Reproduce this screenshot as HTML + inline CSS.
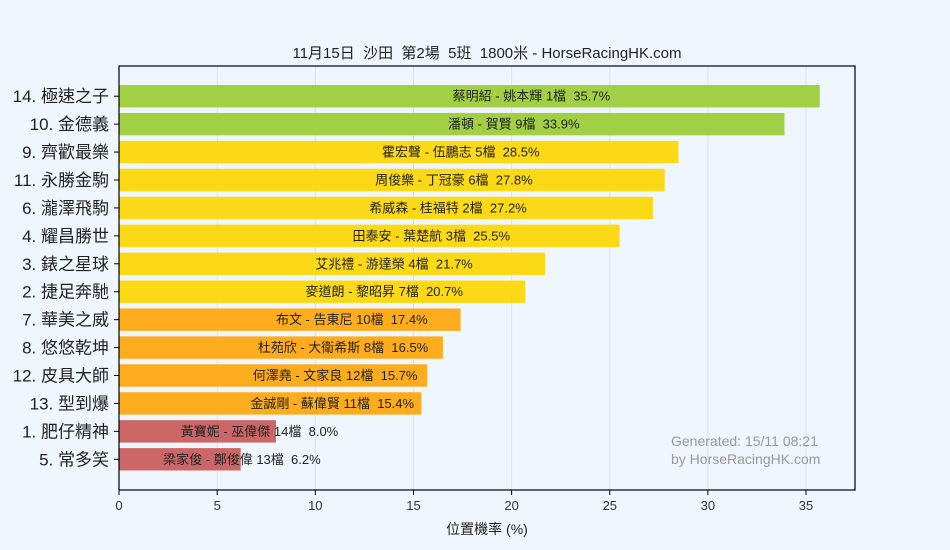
<!DOCTYPE html>
<html><head><meta charset="utf-8"><style>
body{margin:0;background:#eff6fe;}
svg{display:block;font-family:"Liberation Sans","Noto Sans CJK TC",sans-serif;}
text{white-space:pre;}
</style></head><body>
<svg width="950" height="550" xmlns="http://www.w3.org/2000/svg">
<rect width="950" height="550" fill="#eff6fe"/>
<text x="487" y="58" font-size="15" text-anchor="middle" fill="#222">11月15日  沙田  第2場  5班  1800米 - HorseRacingHK.com</text>
<g stroke="#dde2ea" stroke-width="1">
<line x1="217.2" y1="66" x2="217.2" y2="490"/><line x1="315.3" y1="66" x2="315.3" y2="490"/><line x1="413.5" y1="66" x2="413.5" y2="490"/><line x1="511.6" y1="66" x2="511.6" y2="490"/><line x1="609.8" y1="66" x2="609.8" y2="490"/><line x1="707.9" y1="66" x2="707.9" y2="490"/><line x1="806" y1="66" x2="806" y2="490"/>
</g>
<g>
<rect x="119" y="85" width="700.8" height="22.4" fill="#a2d045"/>
<rect x="119" y="112.93" width="665.5" height="22.4" fill="#a2d045"/>
<rect x="119" y="140.86" width="559.5" height="22.4" fill="#fcd916"/>
<rect x="119" y="168.79" width="545.7" height="22.4" fill="#fcd916"/>
<rect x="119" y="196.72" width="533.9" height="22.4" fill="#fcd916"/>
<rect x="119" y="224.65" width="500.6" height="22.4" fill="#fcd916"/>
<rect x="119" y="252.58" width="426.0" height="22.4" fill="#fcd916"/>
<rect x="119" y="280.51" width="406.3" height="22.4" fill="#fcd916"/>
<rect x="119" y="308.44" width="341.6" height="22.4" fill="#fdac1e"/>
<rect x="119" y="336.37" width="323.9" height="22.4" fill="#fdac1e"/>
<rect x="119" y="364.3" width="308.2" height="22.4" fill="#fdac1e"/>
<rect x="119" y="392.23" width="302.3" height="22.4" fill="#fdac1e"/>
<rect x="119" y="420.16" width="157.0" height="22.4" fill="#cd6767"/>
<rect x="119" y="448.09" width="121.7" height="22.4" fill="#cd6767"/>
</g>
<g font-size="13" text-anchor="middle" fill="#222">
<text x="531.4" y="100.7">蔡明紹 - 姚本輝 1檔  35.7%</text>
<text x="513.8" y="128.6">潘頓 - 賀賢 9檔  33.9%</text>
<text x="460.8" y="156.6">霍宏聲 - 伍鵬志 5檔  28.5%</text>
<text x="453.9" y="184.5">周俊樂 - 丁冠豪 6檔  27.8%</text>
<text x="448.0" y="212.4">希威森 - 桂福特 2檔  27.2%</text>
<text x="431.3" y="240.4">田泰安 - 葉楚航 3檔  25.5%</text>
<text x="394.0" y="268.3">艾兆禮 - 游達榮 4檔  21.7%</text>
<text x="384.2" y="296.2">麥道朗 - 黎昭昇 7檔  20.7%</text>
<text x="351.8" y="324.1">布文 - 告東尼 10檔  17.4%</text>
<text x="343.0" y="352.1">杜苑欣 - 大衛希斯 8檔  16.5%</text>
<text x="335.1" y="380.0">何澤堯 - 文家良 12檔  15.7%</text>
<text x="332.2" y="407.9">金誠剛 - 蘇偉賢 11檔  15.4%</text>
<text x="259.5" y="435.9">黃寶妮 - 巫偉傑 14檔  8.0%</text>
<text x="241.9" y="463.8">梁家俊 - 鄭俊偉 13檔  6.2%</text>
</g>
<g stroke="#000">
<line x1="114" y1="96.2" x2="119" y2="96.2"/><line x1="114" y1="124.13" x2="119" y2="124.13"/><line x1="114" y1="152.06" x2="119" y2="152.06"/><line x1="114" y1="179.99" x2="119" y2="179.99"/><line x1="114" y1="207.92" x2="119" y2="207.92"/><line x1="114" y1="235.85" x2="119" y2="235.85"/><line x1="114" y1="263.78" x2="119" y2="263.78"/><line x1="114" y1="291.71" x2="119" y2="291.71"/><line x1="114" y1="319.64" x2="119" y2="319.64"/><line x1="114" y1="347.57" x2="119" y2="347.57"/><line x1="114" y1="375.5" x2="119" y2="375.5"/><line x1="114" y1="403.43" x2="119" y2="403.43"/><line x1="114" y1="431.36" x2="119" y2="431.36"/><line x1="114" y1="459.29" x2="119" y2="459.29"/>
<line x1="119" y1="490" x2="119" y2="495"/><line x1="217.2" y1="490" x2="217.2" y2="495"/><line x1="315.3" y1="490" x2="315.3" y2="495"/><line x1="413.5" y1="490" x2="413.5" y2="495"/><line x1="511.6" y1="490" x2="511.6" y2="495"/><line x1="609.8" y1="490" x2="609.8" y2="495"/><line x1="707.9" y1="490" x2="707.9" y2="495"/><line x1="806" y1="490" x2="806" y2="495"/>
</g>
<g font-size="17" text-anchor="end" fill="#222">
<text x="109" y="102.2">14. 極速之子</text>
<text x="109" y="130.1">10. 金德義</text>
<text x="109" y="158.1">9. 齊歡最樂</text>
<text x="109" y="186.0">11. 永勝金駒</text>
<text x="109" y="213.9">6. 瀧澤飛駒</text>
<text x="109" y="241.9">4. 耀昌勝世</text>
<text x="109" y="269.8">3. 錶之星球</text>
<text x="109" y="297.7">2. 捷足奔馳</text>
<text x="109" y="325.6">7. 華美之威</text>
<text x="109" y="353.6">8. 悠悠乾坤</text>
<text x="109" y="381.5">12. 皮具大師</text>
<text x="109" y="409.4">13. 型到爆</text>
<text x="109" y="437.4">1. 肥仔精神</text>
<text x="109" y="465.3">5. 常多笑</text>
</g>
<rect x="119" y="66" width="736" height="424" fill="none" stroke="#000" stroke-width="1.2"/>
<g font-size="13" fill="#333" text-anchor="middle">
<text x="119" y="510">0</text><text x="217.2" y="510">5</text><text x="315.3" y="510">10</text><text x="413.5" y="510">15</text><text x="511.6" y="510">20</text><text x="609.8" y="510">25</text><text x="707.9" y="510">30</text><text x="806" y="510">35</text>
</g>
<text x="487" y="534" font-size="14" text-anchor="middle" fill="#222">位置機率 (%)</text>
<text x="671" y="446" font-size="14" fill="#999">Generated: 15/11 08:21</text>
<text x="671" y="464" font-size="14" fill="#999">by HorseRacingHK.com</text>
</svg>
</body></html>
